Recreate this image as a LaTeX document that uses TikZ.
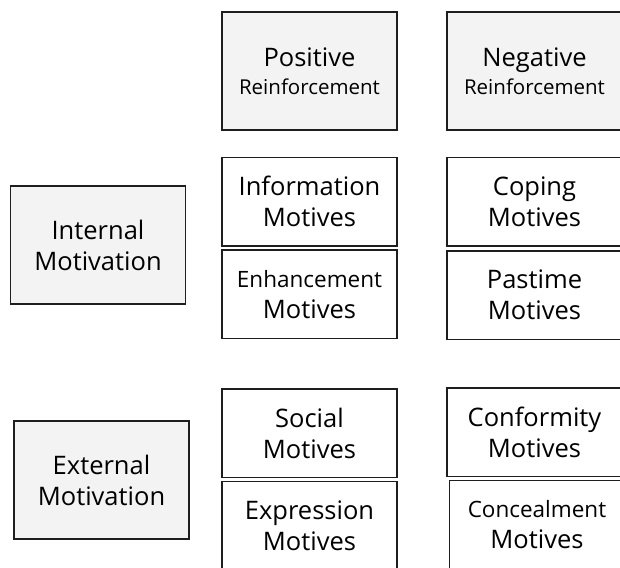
\documentclass[tikz,border=0pt]{standalone}
\usepackage{fontspec}
\setmainfont{Open Sans}
\usepackage{xcolor}
\usepackage{tikz}
\usetikzlibrary{positioning}
\definecolor{darkline}{HTML}{1E1E1E}
\definecolor{boxgray}{HTML}{F3F3F3}

\begin{document}
\begin{tikzpicture}[x=1pt,y=-1pt,
    head/.style={draw=darkline,line width=1.8pt,fill=boxgray,minimum width=175pt,
                 minimum height=118pt,inner sep=0pt,outer sep=0pt,align=center,
                 font=\fontsize{25.5}{31}\selectfont},
    motive/.style={head,fill=white,minimum height=88.5pt}
  ]
    \useasboundingbox (0,0) rectangle (620,567);
    \clip (0,0) rectangle (620,567);
    \node[head] (pos) at (309.5,71)
          {Positive\\[-3pt]{\fontsize{20.5}{25}\selectfont Reinforcement}};
    \node[head,right=50pt of pos] (neg)
          {Negative\\[-3pt]{\fontsize{20.5}{25}\selectfont Reinforcement}};
    \node[head] (int) at (98,245) {Internal\\Motivation};
    \node[head] (ext) at (101.5,480) {External\\Motivation};
    \node[motive,below=27.5pt of pos] (info) {Information\\Motives};
    \node[motive,below=4pt of info] (enh)
          {{\fontsize{22.5}{27}\selectfont Enhancement}\\Motives};
    \node[motive,below=27.5pt of neg] (cop) {Coping\\Motives};
    \node[motive,below=5pt of cop] (pas) {Pastime\\Motives};
    \node[motive,below=50.5pt of enh] (soc) {Social\\Motives};
    \node[motive,below=4pt of soc] (expr) {Expression\\Motives};
    \node[motive,below=48.5pt of pas] (conf) {Conformity\\Motives};
    \node[motive,below=4pt of conf,xshift=2.5pt] (conc)
          {{\fontsize{22.5}{27}\selectfont Concealment}\\Motives};
  \end{tikzpicture}
\end{document}
